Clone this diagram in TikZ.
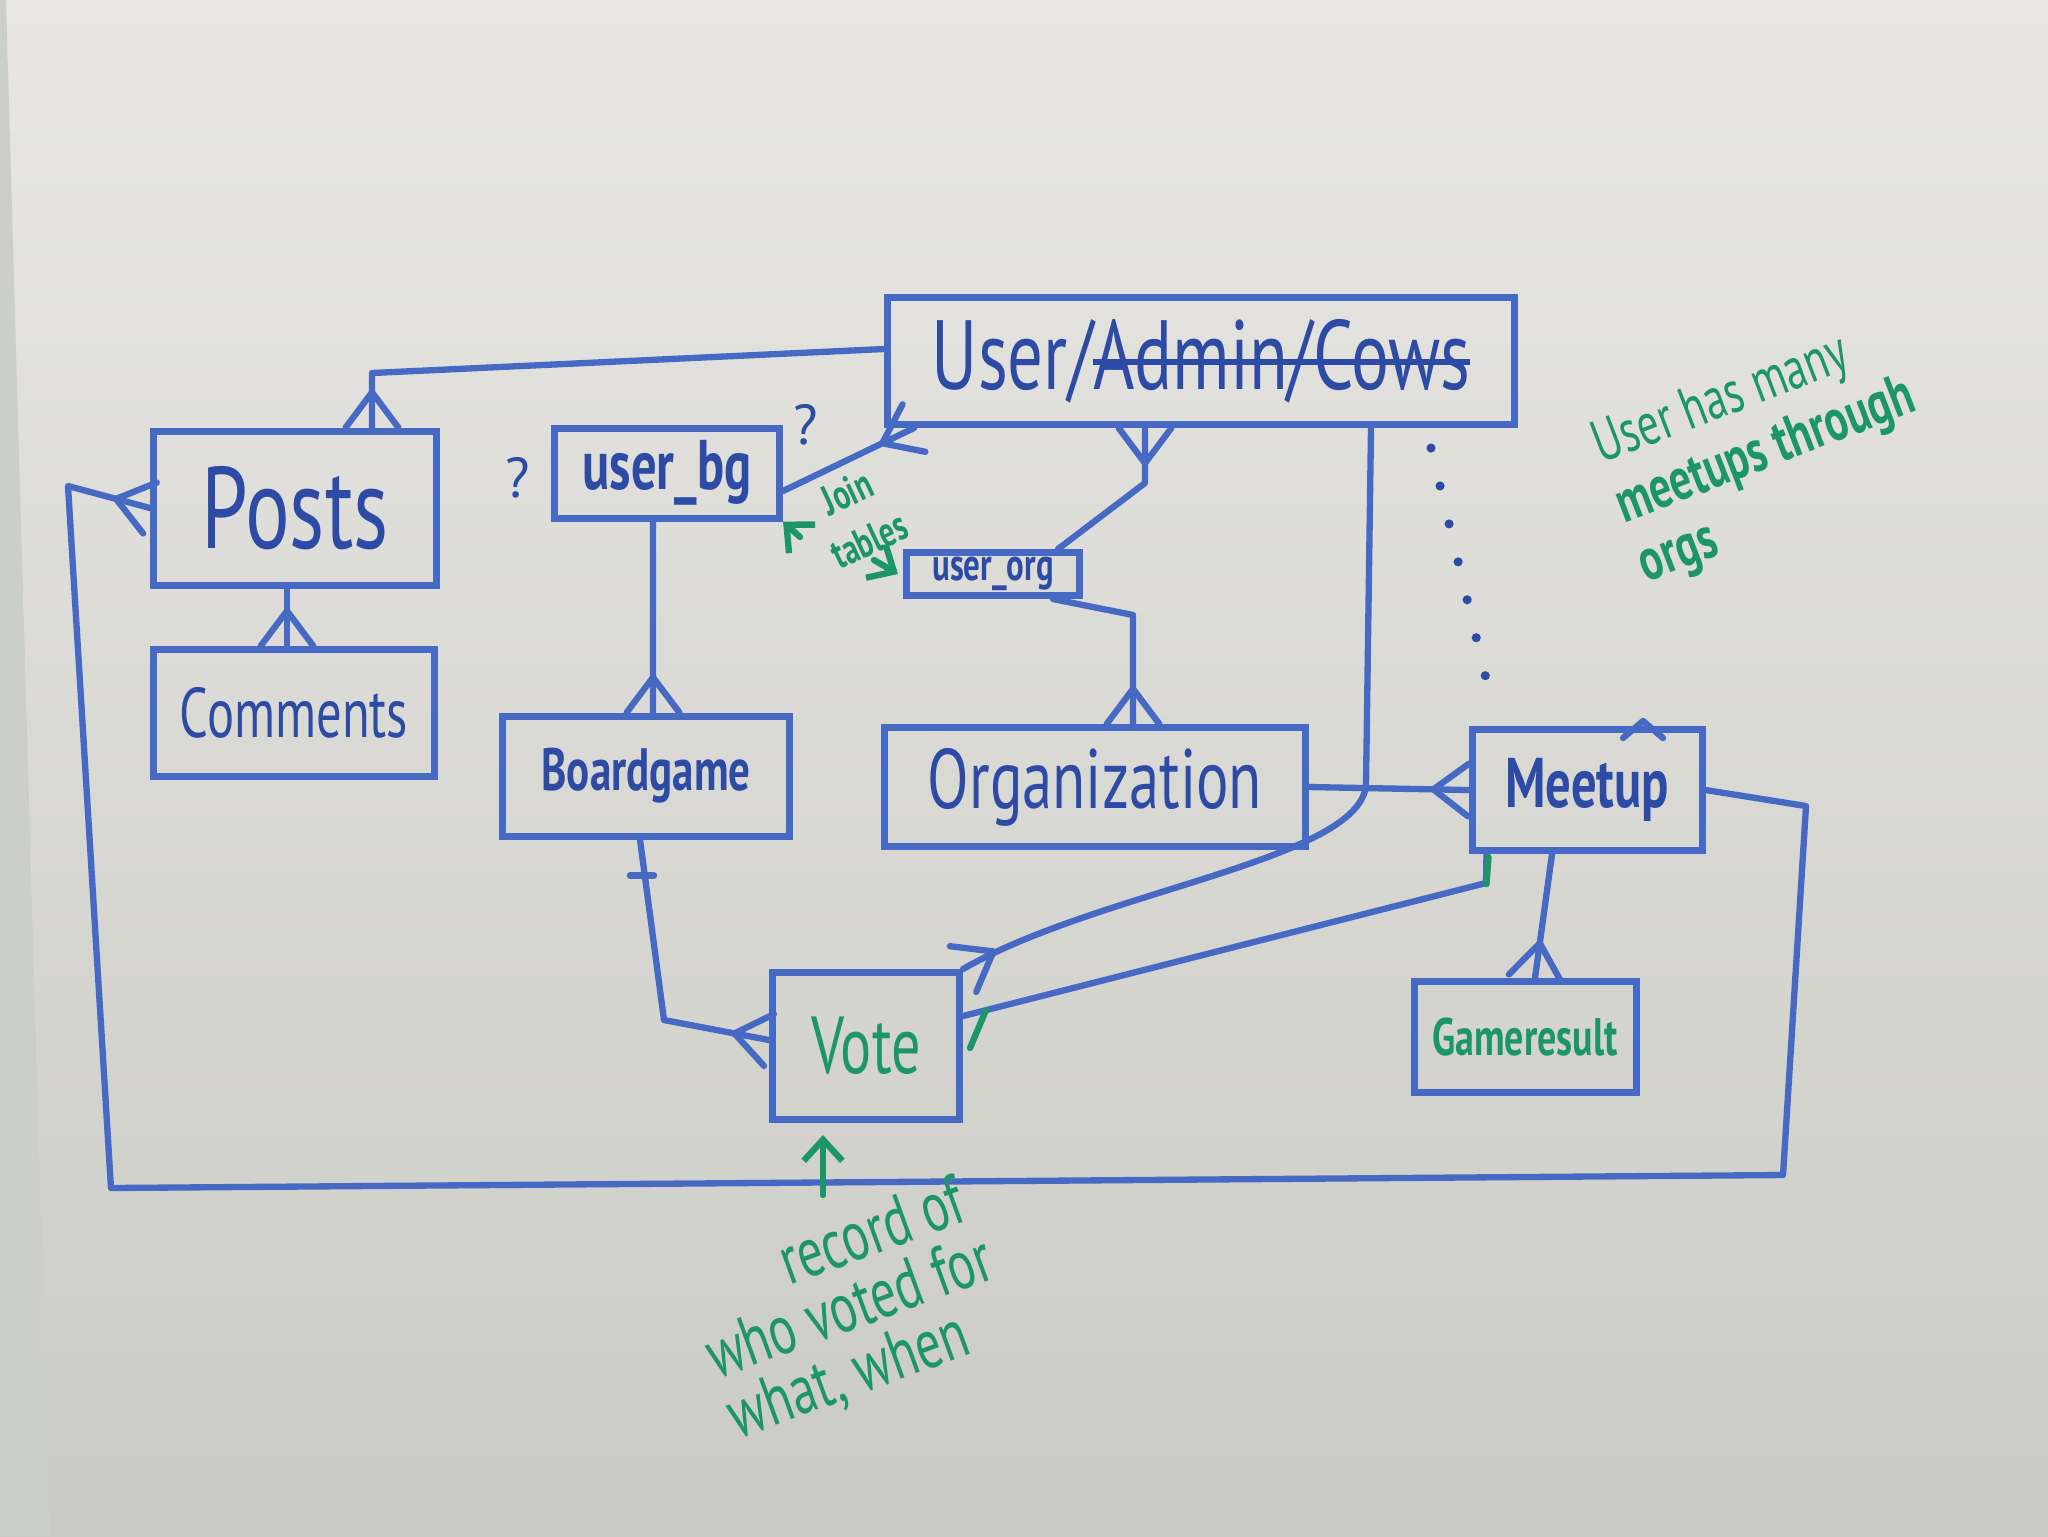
\documentclass[tikz,border=0pt]{standalone}
\usepackage{fontspec}
\setmainfont{PT Sans}
\usepackage{graphicx}
\usetikzlibrary{positioning}
\usetikzlibrary{arrows.meta}

\definecolor{marker}{RGB}{70,105,195}
\definecolor{ink}{RGB}{45,75,165}
\definecolor{greenpen}{RGB}{28,150,105}
\definecolor{boardtop}{RGB}{232,231,227}
\definecolor{boardbot}{RGB}{203,203,198}
\definecolor{boardedge}{RGB}{204,207,199}

\newcommand{\squeeze}[1]{\scalebox{0.72}[1]{#1}}
\newsavebox{\strikebox}
\newcommand{\strikeout}[1]{\sbox\strikebox{#1}\rlap{\rule[0.5ex]{\wd\strikebox}{1.5pt}}\usebox\strikebox}

% crow's foot: the line runs to the tip, two arms open towards it
\pgfdeclarearrow{
  name = Crow,
  parameters = {\the\pgfarrowlength,\the\pgfarrowwidth},
  setup code = {
    \pgfarrowssettipend{0pt}
    \pgfarrowssetlineend{0pt}
    \pgfarrowssetbackend{-\pgfarrowlength}
    \pgfarrowssavethe\pgfarrowlength
    \pgfarrowssavethe\pgfarrowwidth
  },
  drawing code = {
    \pgfsetroundcap
    \pgfsetroundjoin
    \pgfpathmoveto{\pgfqpoint{0pt}{.5\pgfarrowwidth}}
    \pgfpathlineto{\pgfqpoint{-\pgfarrowlength}{0pt}}
    \pgfpathlineto{\pgfqpoint{0pt}{-.5\pgfarrowwidth}}
    \pgfusepathqstroke
  },
  defaults = {length=10pt, width=15pt}
}

\tikzset{
  box/.style={draw=marker, line width=2pt, inner sep=0pt, text=ink},
  conn/.style={draw=marker, line width=1.8pt, line cap=round, line join=round},
  noteline/.style={draw=greenpen, line width=1.8pt, line cap=round},
  notetext/.style={text=greenpen, inner sep=0pt},
  qmark/.style={text=ink, inner sep=0pt, font=\fontsize{16}{16}\selectfont},
  dotline/.style={draw=ink, line width=2.6pt, line cap=round, dash pattern=on 0pt off 3.9mm},
}

\begin{document}
\begin{tikzpicture}[x=0.1mm, y=-0.1mm, >={Straight Barb[length=6pt,width=11pt]}]
    \useasboundingbox (0,0) rectangle (2048,1536);
    \fill[top color=boardtop, bottom color=boardbot] (0,0) rectangle (2048,1536);
    \fill[boardedge] (0,0) -- (6,0) -- (50,1536) -- (0,1536) -- cycle;

    % tables
    \node[box, minimum width=62.7mm, minimum height=12.7mm, font=\fontsize{28}{28}\selectfont] (user) at (1201,361) {\squeeze{User/\strikeout{Admin/Cows}}};
    \node[box, minimum width=28.3mm, minimum height=15.4mm, font=\fontsize{33}{33}\selectfont] (posts) at (295,508) {\squeeze{Posts}};
    \node[box, minimum width=28.1mm, minimum height=12.7mm, font=\fontsize{20}{20}\selectfont] (comments) at (294,713) {\squeeze{Comments}};
    \node[box, minimum width=22.5mm, minimum height=9mm, font=\bfseries\fontsize{20}{20}\selectfont] (userbg) at (667,473) {\squeeze{user\_bg}};
    \node[box, minimum width=17.3mm, minimum height=4.3mm, font=\bfseries\fontsize{13}{13}\selectfont] (userorg) at (993,574) {\squeeze{user\_org}};
    \node[box, minimum width=28.7mm, minimum height=12mm, font=\bfseries\fontsize{17}{17}\selectfont] (boardgame) at (646,776) {\squeeze{Boardgame}};
    \node[box, minimum width=42.1mm, minimum height=11.9mm, font=\fontsize{24}{24}\selectfont] (organization) at (1095,787) {\squeeze{Organization}};
    \node[box, minimum width=23mm, minimum height=12.1mm, font=\bfseries\fontsize{20}{20}\selectfont] (meetup) at (1587,790) {\squeeze{Meetup}};
    \node[box, text=greenpen, minimum width=22.2mm, minimum height=11.1mm, font=\bfseries\fontsize{15}{15}\selectfont] (gameresult) at (1525,1037) {\squeeze{Gameresult}};
    \node[box, text=greenpen, minimum width=18.7mm, minimum height=14.7mm, font=\fontsize{23}{23}\selectfont] (vote) at (866,1046) {\squeeze{Vote}};

    \node[qmark] (qbg) at (518,478) {?};
    \node[qmark] (quser) at (806,425) {?};

    % relations
    \draw[conn,-{Crow}] ([yshift=1.2mm]user.west) -- (372,373) -- ([xshift=7.7mm]posts.north);
    \draw[conn,{Crow}-] (posts.west) -- (68,486) -- (111,1188) -- (1783,1175) -- (1806,806) -- (meetup.east);
    \draw[conn,-{Crow}] ([xshift=-0.8mm]posts.south) -- ([xshift=-0.7mm]comments.north);
    \draw[conn,{Crow}-] ([xshift=-5.6mm]user.south) -- (1145,483) -- ([xshift=-2.5mm]userorg.north east);
    \draw[conn,-{Crow}] ([xshift=-3mm]userorg.south east) -- (1133,615) -- ([xshift=3.8mm]organization.north);
    \draw[conn,-{Crow}] ([yshift=-1.8mm]userbg.east) -- ([xshift=3mm]user.south west);
    \draw[conn,-{Crow}] ([xshift=-1.4mm]userbg.south) -- ([xshift=0.7mm]boardgame.north);
    \draw[conn,-{Crow}] ([xshift=-0.6mm]boardgame.south) -- (664,1020) -- ([yshift=0.6mm]vote.west);
    \draw[conn] ([xshift=-1.6mm,yshift=-3.6mm]boardgame.south) -- ++(24,0);
    \draw[conn,-{Crow}] ([xshift=17mm]user.south) -- (1366,784) .. controls (1362,860) and (1100,890) .. (vote.north east);
    \draw[conn] ([xshift=1.8mm]meetup.south west) -- (1486,883) -- ([yshift=3mm]vote.east);
    \draw[conn,-{Crow}] (organization.east) -- (meetup.west);
    \draw[conn,-{Crow}] ([xshift=-3.5mm]meetup.south) -- ([xshift=1mm]gameresult.north);
    \draw[conn] ([xshift=3.6mm,yshift=-1.2mm]meetup.north) -- ++(20,-17) -- ++(20,17);
    \draw[dotline] ([xshift=23mm,yshift=-2mm]user.south) -- ([xshift=-10mm,yshift=4.3mm]meetup.north);

    % green notes
    \node[notetext, rotate=25, align=center, font=\bfseries\fontsize{12}{15}\selectfont] (jointab) at (858,516) {\squeeze{Join}\\\squeeze{tables}};
    \coordinate (jtleft) at (800,537);
    \coordinate (jtright) at (874,560);
    \draw[noteline,->] (jtleft) -- (userbg.south east);
    \draw[noteline,->] (jtright) -- ([xshift=-0.5mm]userorg.west);

    \node[notetext, rotate=21, align=left, font=\fontsize{17}{18}\selectfont] (meetnote) at (1766,453) {\squeeze{User has many}\\\squeeze{\textbf{meetups through}}\\\squeeze{\textbf{orgs}}};

    \node[notetext, rotate=20, align=left, font=\fontsize{20}{18}\selectfont] (votenote) at (850,1310) {\squeeze{\hspace*{40pt}record of}\\\squeeze{who voted for}\\\squeeze{what, when}};
    \coordinate (recarrow) at (823,1195);
    \draw[noteline,->] (recarrow) -- ([yshift=-1.2mm]recarrow |- vote.south);

    \draw[noteline] ([xshift=2mm,yshift=-0.3mm]meetup.south west) -- ++(-2,27);
    \draw[noteline] ([xshift=2.3mm,yshift=3.6mm]vote.east) -- ([xshift=0.7mm,yshift=-0.2mm]vote.east);
  \end{tikzpicture}
\end{document}
